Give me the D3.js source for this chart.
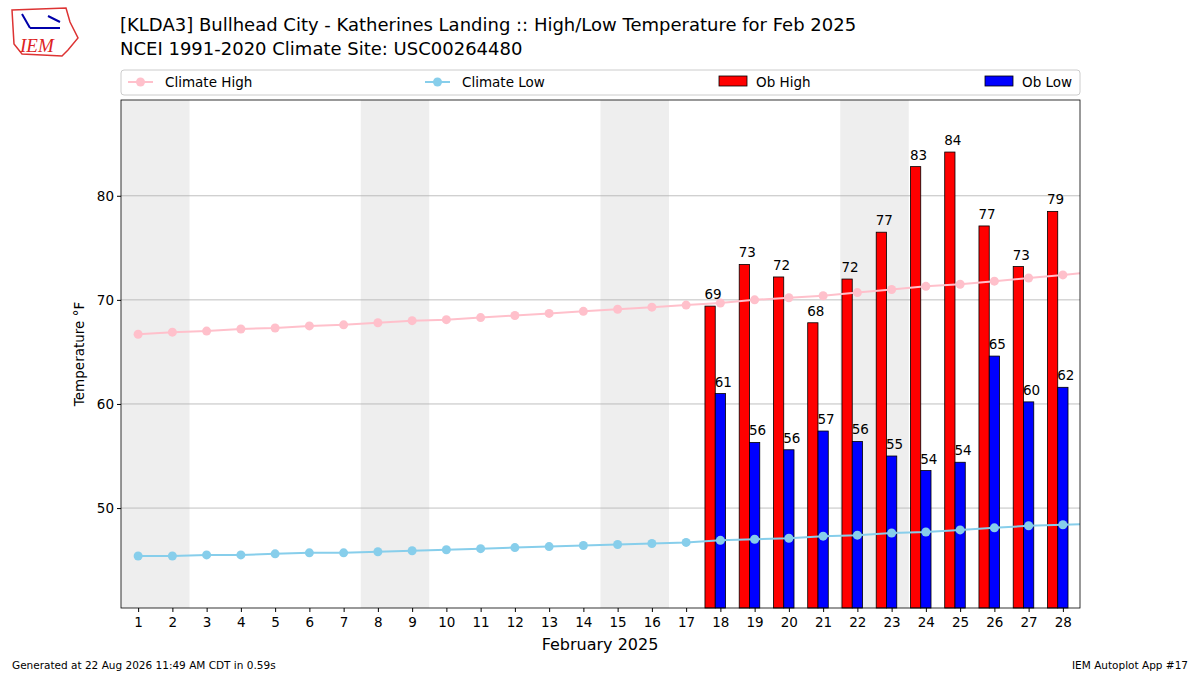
<!DOCTYPE html>
<html><head><meta charset="utf-8">
<script src="https://cdn.jsdelivr.net/npm/d3@7"></script>
<style>body{margin:0;background:#fff}svg{font-family:"DejaVu Sans",sans-serif}</style>
</head><body><svg id="c" width="1200" height="675"></svg>
<script>
const days = d3.range(1, 29);
const climHigh = [66.7,66.9,67.0,67.2,67.3,67.5,67.6,67.8,68.0,68.1,68.3,68.5,68.7,68.9,69.1,69.3,69.5,69.7,70.0,70.2,70.4,70.7,71.0,71.3,71.5,71.8,72.1,72.4];
const climLow = [45.4,45.4,45.5,45.5,45.6,45.7,45.7,45.8,45.9,46.0,46.1,46.2,46.3,46.4,46.5,46.6,46.7,46.9,47.0,47.1,47.3,47.4,47.6,47.7,47.9,48.1,48.3,48.4];
const obDays = [18,19,20,21,22,23,24,25,26,27,28];
const obHigh = [69.4,73.4,72.2,67.8,72.0,76.5,82.8,84.2,77.1,73.2,78.5];
const obLow = [61.0,56.3,55.6,57.4,56.4,55.0,53.6,54.4,64.6,60.2,61.6];
const weekends = [[0.5,2.5],[7.5,9.5],[14.5,16.5],[21.5,23.5]];
const yTicks = [50,60,70,80];

const svg = d3.select('#c');
const L=121,R=1080,T=100,B=608;
const x = d3.scaleLinear().domain([0.5,28.5]).range([L,R]);
const y = d3.scaleLinear().domain([40.4,89.2]).range([B,T]);

// logo
const lg = svg.append('g');
lg.append('path').attr('d','M12,10 L66,8 L70,22 L78,38 L68,50 L62,56 L22,54 L14,44 Z').attr('fill','none').attr('stroke','#d33').attr('stroke-width',1.5);
lg.append('text').attr('x',20).attr('y',52).attr('fill','#d22').attr('font-family','Liberation Serif').attr('font-style','italic').attr('font-size',19).text('IEM');
lg.append('path').attr('d','M22,14 L30,28 M30,28 L60,28 M48,16 L60,22').attr('stroke','#00a').attr('stroke-width',2).attr('fill','none');

svg.append('text').attr('x',120).attr('y',31).attr('font-size',18).text('[KLDA3] Bullhead City - Katherines Landing :: High/Low Temperature for Feb 2025');
svg.append('text').attr('x',120).attr('y',55).attr('font-size',18).text('NCEI 1991-2020 Climate Site: USC00264480');

// legend
svg.append('rect').attr('x',121).attr('y',70).attr('width',959).attr('height',25).attr('rx',3).attr('fill','#fff').attr('stroke','#ccc');
const leg=[{t:'Climate High',c:'pink',line:1,x:128},{t:'Climate Low',c:'skyblue',line:1,x:425},{t:'Ob High',c:'red',x:719},{t:'Ob Low',c:'blue',x:985}];
leg.forEach(d=>{
  if(d.line){svg.append('line').attr('x1',d.x).attr('x2',d.x+25).attr('y1',82).attr('y2',82).attr('stroke',d.c).attr('stroke-width',2);
    svg.append('circle').attr('cx',d.x+12.5).attr('cy',82).attr('r',4.5).attr('fill',d.c);}
  else svg.append('rect').attr('x',d.x).attr('y',76).attr('width',28).attr('height',10).attr('fill',d.c).attr('stroke','#000').attr('stroke-width',0.8);
  svg.append('text').attr('x',d.x+37).attr('y',87).attr('font-size',13.5).text(d.t);
});

const plot = svg.append('g');
plot.selectAll('.wk').data(weekends).join('rect').attr('x',d=>x(d[0])).attr('width',d=>x(d[1])-x(d[0])).attr('y',T).attr('height',B-T).attr('fill','#eee');
plot.selectAll('.gl').data(yTicks).join('line').attr('x1',L).attr('x2',R).attr('y1',d=>y(d)).attr('y2',d=>y(d)).attr('stroke','#b0b0b0').attr('stroke-width',0.8);

const bw = x(1.3)-x(1);
const hi = obDays.map((d,i)=>({d,v:obHigh[i]})), lo = obDays.map((d,i)=>({d,v:obLow[i]}));
const series = [[hi,'red',-0.45],[lo,'blue',-0.15]];
series.forEach(([data,col,off])=>{
  plot.selectAll(null).data(data).join('rect').attr('x',d=>x(d.d+off)).attr('width',bw).attr('y',d=>y(d.v)).attr('height',d=>B-y(d.v)).attr('fill',col).attr('stroke','#000').attr('stroke-width',0.8);
});

[[climHigh,'pink'],[climLow,'skyblue']].forEach(([vals,col])=>{
  const pts = days.map((d,i)=>[d,vals[i]]);
  const ext = [...pts,[28.5,vals[27]+(vals[27]-vals[26])*0.5]];
  plot.append('path').datum(ext).attr('d',d3.line().x(d=>x(d[0])).y(d=>y(d[1]))).attr('fill','none').attr('stroke',col).attr('stroke-width',2);
  plot.selectAll(null).data(pts).join('circle').attr('cx',d=>x(d[0])).attr('cy',d=>y(d[1])).attr('r',4.5).attr('fill',col);
});

series.forEach(([data,col,off])=>{
  plot.selectAll(null).data(data).join('text').attr('x',d=>x(d.d+off)+bw/2+3).attr('y',d=>y(d.v)-7).attr('text-anchor','middle').attr('font-size',13.5).text(d=>Math.round(d.v+1e-9));
});

svg.append('rect').attr('x',L).attr('y',T).attr('width',R-L).attr('height',B-T).attr('fill','none').attr('stroke','#000').attr('stroke-width',0.8);
svg.append('g').attr('transform',`translate(0,${B})`).call(d3.axisBottom(x).tickValues(days).tickFormat(d3.format('d')).tickSize(4).tickSizeOuter(0))
  .call(g=>{g.select('.domain').remove();g.selectAll('text').attr('font-size',13.5).attr('font-family','DejaVu Sans').attr('dy','0.9em');});
svg.append('g').attr('transform',`translate(${L},0)`).call(d3.axisLeft(y).tickValues(yTicks).tickSize(4).tickSizeOuter(0))
  .call(g=>{g.select('.domain').remove();g.selectAll('text').attr('font-size',13.5).attr('font-family','DejaVu Sans');});
svg.append('text').attr('x',600).attr('y',650).attr('text-anchor','middle').attr('font-size',16).text('February 2025');
svg.append('text').attr('transform','translate(84,354) rotate(-90)').attr('text-anchor','middle').attr('font-size',13.5).text('Temperature °F');
svg.append('text').attr('x',12).attr('y',669).attr('font-size',10.5).text('Generated at 22 Aug 2026 11:49 AM CDT in 0.59s');
svg.append('text').attr('x',1188).attr('y',669).attr('text-anchor','end').attr('font-size',10.5).text('IEM Autoplot App #17');
</script></body></html>
